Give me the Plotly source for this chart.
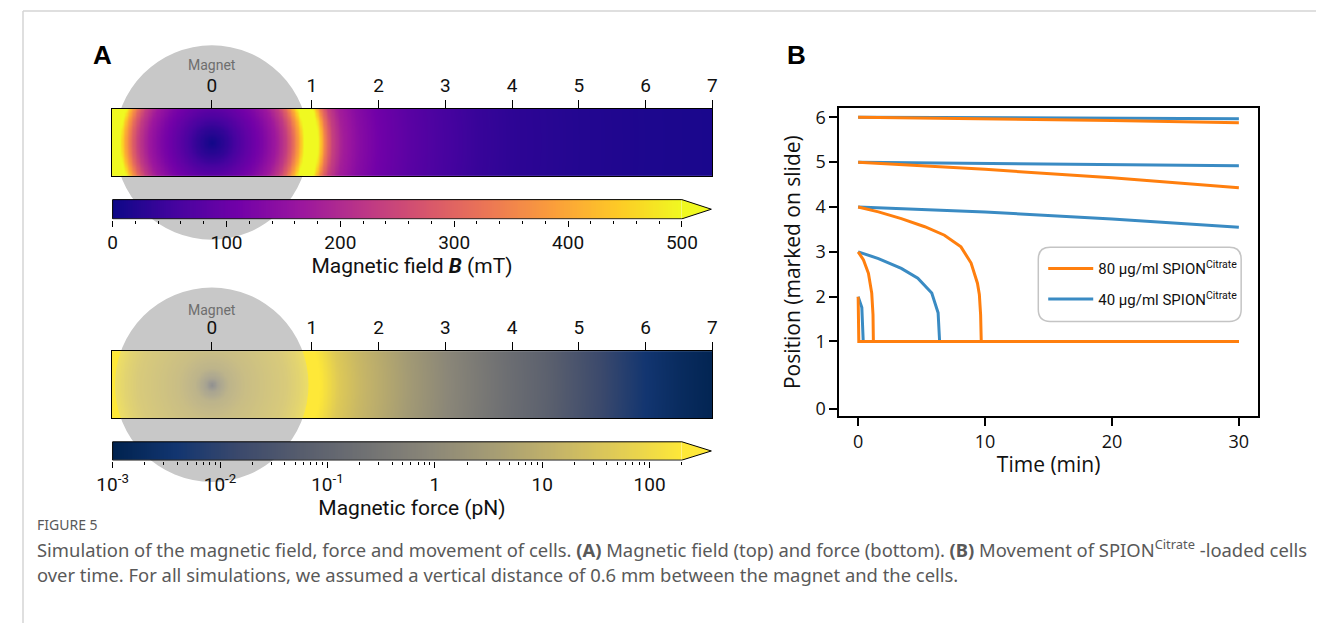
import numpy as np
import plotly.graph_objects as go

# ------------------------------------------------------------------ data
# Panel A: marks on the slide; the magnet centre ("0") lies 1.5 mark spacings before mark 1
slide_tick_labels = ["0", "1", "2", "3", "4", "5", "6", "7"]
slide_tick_positions = [-0.5, 1, 2, 3, 4, 5, 6, 7]
magnet_centre = -0.5
magnet_radius = 1.45
strip_start, strip_end = -2.0, 7.0

# radial profile of the magnetic field (distance from magnet centre, mark units -> mT)
field_radius = [0, 0.25, 0.5, 0.75, 0.95, 1.1, 1.2, 1.3, 1.38, 1.45, 1.55, 1.62, 1.7,
                1.8, 1.95, 2.2, 2.5, 3.0, 3.5, 4.0, 4.5, 5.5, 6.5, 7.7]
field_mT = [5, 40, 85, 125, 170, 230, 300, 400, 500, 560, 540, 450, 330,
            240, 180, 140, 110, 80, 58, 42, 32, 22, 16, 12]

# radial profile of the magnetic force (distance from magnet centre -> pN)
force_radius = [0, 0.1, 0.25, 0.5, 0.8, 1.1, 1.3, 1.45, 1.6, 1.75, 1.9, 2.2, 2.5,
                3.0, 3.5, 4.0, 4.5, 5.0, 5.5, 6.0, 6.5, 7.0, 7.7]
force_pN = [0.3, 2, 8, 18, 30, 50, 100, 220, 220, 100, 45, 18, 9,
            2.8, 1.0, 0.4, 0.17, 0.08, 0.03, 0.011, 0.004, 0.002, 0.001]

field_cbar_ticks = [0, 100, 200, 300, 400, 500]
field_cbar_minor = [v for v in range(20, 500, 20) if v % 100]
field_cbar_max = 500
force_cbar_ticks = [0.001, 0.01, 0.1, 1, 10, 100]
force_cbar_labels = ["10<sup>-3</sup>", "10<sup>-2</sup>", "10<sup>-1</sup>", "1", "10", "100"]
force_cbar_minor = [k * d for d in [0.001, 0.01, 0.1, 1, 10] for k in range(2, 10)] + [200]
force_cbar_min, force_cbar_max = 0.001, 200

# Panel B: cell positions (marks on slide) over time (min)
pos_tick_labels = ["0", "1", "2", "3", "4", "5", "6"]
pos_tick_positions = [-0.5, 1, 2, 3, 4, 5, 6]
time_ticks = [0, 10, 20, 30]

# 80 ug/ml SPION-Citrate (orange)
t80_6 = [0, 10, 20, 30];                    p80_6 = [6.0, 5.97, 5.93, 5.88]
t80_5 = [0, 10, 20, 30];                    p80_5 = [5.0, 4.84, 4.65, 4.43]
t80_4 = [0, 1.6, 3.4, 5.25, 6.8, 8.1, 8.9, 9.4, 9.55, 9.65, 9.7, 30]
p80_4 = [4.0, 3.89, 3.74, 3.56, 3.37, 3.11, 2.75, 2.3, 2.05, 1.6, 1.0, 1.0]
t80_3 = [0, 0.42, 0.81, 1.07, 1.17, 1.2, 30]
p80_3 = [3.0, 2.82, 2.52, 2.08, 1.6, 1.0, 1.0]
t80_2 = [0, 0.05, 30];                      p80_2 = [2.0, 1.0, 1.0]

# 40 ug/ml SPION-Citrate (blue)
t40_6 = [0, 30];                            p40_6 = [6.0, 5.97]
t40_5 = [0, 30];                            p40_5 = [5.0, 4.92]
t40_4 = [0, 10, 20, 30];                    p40_4 = [4.0, 3.89, 3.73, 3.55]
t40_3 = [0, 1.6, 3.4, 4.7, 5.8, 6.3, 6.42, 30]
p40_3 = [3.0, 2.85, 2.63, 2.41, 2.08, 1.64, 1.0, 1.0]
t40_2 = [0, 0.29, 0.4, 30];                 p40_2 = [2.0, 1.76, 1.0, 1.0]

ORANGE = "#ff7f0e"
BLUE = "#3a8bc3"

# ------------------------------------------------------------------ layout helpers (px of the page)
PAGE_W, PAGE_H = 1329, 635
OX, OY = 8, 8                      # default body margin of the html page
W, H = PAGE_W - 2 * OX, PAGE_H - 2 * OY
STRIP_X = (98, 708)
TOP_STRIP_Y = (107, 175)
TOP_CBAR_Y = (198, 219)
BOT_STRIP_Y = (352, 420)
BOT_CBAR_Y = (443, 463)
CBAR_BODY_END = 678
B_X = (837, 1262)
B_Y = (106, 418)


def px(x):
    return (x - OX) / W


def py(y):
    return 1 - (y - OY) / H


def dx(a, b):
    return [px(a), px(b)]


def dy(top, bottom):
    return [py(bottom), py(top)]


unit = (STRIP_X[1] - STRIP_X[0]) / (strip_end - strip_start)  # px per mark
NARROW = "Roboto, Liberation Sans Narrow, DejaVu Sans Condensed, sans-serif"
SANS = "Open Sans, Noto Sans, DejaVu Sans, sans-serif"

fig = go.Figure()


# ------------------------------------------------------------------ panel A strips
def strip_grid(y_px, radius, values):
    half = (y_px[1] - y_px[0]) / 2 / unit
    gx = np.arange(strip_start, strip_end + 1e-9, 0.02)
    gy = np.linspace(-half, half, 61)
    rr = np.hypot(gx[None, :] - magnet_centre, gy[:, None])
    return gx, gy, np.interp(rr, radius, values), half


gx, gy, zf, half_top = strip_grid(TOP_STRIP_Y, field_radius, field_mT)
fig.add_trace(go.Heatmap(x=gx, y=gy, z=zf, colorscale="Plasma", zmin=0, zmax=field_cbar_max,
                         zsmooth="best", showscale=False, hoverinfo="skip",
                         xaxis="x3", yaxis="y3"))
gx, gy, zF, half_bot = strip_grid(BOT_STRIP_Y, force_radius, np.log10(force_pN))
fig.add_trace(go.Heatmap(x=gx, y=gy, z=zF, colorscale="Cividis",
                         zmin=np.log10(force_cbar_min), zmax=np.log10(force_cbar_max),
                         zsmooth="best", showscale=False, hoverinfo="skip",
                         xaxis="x5", yaxis="y5"))

# ------------------------------------------------------------------ colourbars (drawn as heatmaps)
px_per_field = (CBAR_BODY_END - STRIP_X[0]) / field_cbar_max
arrow_field = (STRIP_X[1] - CBAR_BODY_END) / px_per_field
edges = np.linspace(0, field_cbar_max, 301)
mids = (edges[:-1] + edges[1:]) / 2
fig.add_trace(go.Heatmap(x=edges, y=[0, 0.5, 1], z=[mids, mids], colorscale="Plasma",
                         zmin=0, zmax=field_cbar_max, showscale=False, hoverinfo="skip",
                         xaxis="x4", yaxis="y4"))
tip_f = field_cbar_max + arrow_field
fig.add_trace(go.Scatter(x=[field_cbar_max, tip_f, field_cbar_max, field_cbar_max],
                         y=[0, 0.5, 1, 0], fill="toself", fillcolor="#f0f921",
                         line=dict(width=0), mode="lines", hoverinfo="skip",
                         showlegend=False, xaxis="x4", yaxis="y4"))
fig.add_trace(go.Scatter(x=[0, field_cbar_max, tip_f, field_cbar_max, 0, 0],
                         y=[0, 0, 0.5, 1, 1, 0], mode="lines",
                         line=dict(color="black", width=1), hoverinfo="skip",
                         showlegend=False, xaxis="x4", yaxis="y4"))

lmin, lmax = np.log10(force_cbar_min), np.log10(force_cbar_max)
px_per_dec = (CBAR_BODY_END - STRIP_X[0]) / (lmax - lmin)
arrow_force = (STRIP_X[1] - CBAR_BODY_END) / px_per_dec
edges = np.linspace(lmin, lmax, 301)
mids = (edges[:-1] + edges[1:]) / 2
fig.add_trace(go.Heatmap(x=edges, y=[0, 0.5, 1], z=[mids, mids], colorscale="Cividis",
                         zmin=lmin, zmax=lmax, showscale=False, hoverinfo="skip",
                         xaxis="x6", yaxis="y6"))
tip_F = lmax + arrow_force
fig.add_trace(go.Scatter(x=[lmax, tip_F, lmax, lmax], y=[0, 0.5, 1, 0], fill="toself",
                         fillcolor="#fee838", line=dict(width=0), mode="lines",
                         hoverinfo="skip", showlegend=False, xaxis="x6", yaxis="y6"))
fig.add_trace(go.Scatter(x=[lmin, lmax, tip_F, lmax, lmin, lmin], y=[0, 0, 0.5, 1, 1, 0],
                         mode="lines", line=dict(color="black", width=1), hoverinfo="skip",
                         showlegend=False, xaxis="x6", yaxis="y6"))

# ------------------------------------------------------------------ panel B lines
blue_sets = [(t40_6, p40_6), (t40_5, p40_5), (t40_4, p40_4), (t40_3, p40_3), (t40_2, p40_2)]
orange_sets = [(t80_6, p80_6), (t80_5, p80_5), (t80_4, p80_4), (t80_3, p80_3), (t80_2, p80_2)]
for i, (t, p) in enumerate(blue_sets):
    fig.add_trace(go.Scatter(x=t, y=p, mode="lines", line=dict(color=BLUE, width=3),
                             name="40 µg/ml SPION<sup>Citrate</sup>", legendgroup="b40",
                             legendrank=2, showlegend=(i == 0), xaxis="x7", yaxis="y7"))
for i, (t, p) in enumerate(orange_sets):
    fig.add_trace(go.Scatter(x=t, y=p, mode="lines", line=dict(color=ORANGE, width=3),
                             name="80 µg/ml SPION<sup>Citrate</sup>", legendgroup="o80",
                             legendrank=1, showlegend=(i == 0), xaxis="x7", yaxis="y7"))

# ------------------------------------------------------------------ axes
hidden = dict(visible=False, showgrid=False, zeroline=False)


def bg_range(strip_y, top, bottom):
    c = (strip_y[0] + strip_y[1]) / 2
    return [(c - bottom) / unit, (c - top) / unit]


strip_x_common = dict(domain=dx(*STRIP_X), range=[strip_start, strip_end],
                      showgrid=False, zeroline=False)
layout_axes = dict(
    xaxis=dict(**strip_x_common, visible=False, anchor="y"),
    yaxis=dict(domain=dy(30, 295), range=bg_range(TOP_STRIP_Y, 30, 295), anchor="x", **hidden),
    xaxis2=dict(**strip_x_common, visible=False, anchor="y2"),
    yaxis2=dict(domain=dy(280, 500), range=bg_range(BOT_STRIP_Y, 280, 500), anchor="x2", **hidden),
)
strip_ticks = dict(side="top", tickmode="array", tickvals=slide_tick_positions,
                   ticktext=slide_tick_labels, ticks="outside", ticklen=8, tickwidth=1.3,
                   tickcolor="black", showline=True, linecolor="black", linewidth=1.3,
                   mirror=True, tickfont=dict(family=NARROW, size=19, color="#111"))
layout_axes["xaxis3"] = dict(**strip_x_common, anchor="y3", **strip_ticks)
layout_axes["yaxis3"] = dict(domain=dy(*TOP_STRIP_Y), range=[-half_top, half_top], anchor="x3",
                             showline=True, linecolor="black", linewidth=1.3, mirror=True,
                             showticklabels=False, ticks="", showgrid=False, zeroline=False)
layout_axes["xaxis5"] = dict(**strip_x_common, anchor="y5", **strip_ticks)
layout_axes["yaxis5"] = dict(domain=dy(*BOT_STRIP_Y), range=[-half_bot, half_bot], anchor="x5",
                             showline=True, linecolor="black", linewidth=1.3, mirror=True,
                             showticklabels=False, ticks="", showgrid=False, zeroline=False)

pad_f = 1.0 / px_per_field
cbar_axis_common = dict(ticks="outside", ticklen=6, tickwidth=1, tickcolor="black",
                        showgrid=False, zeroline=False, showline=False,
                        tickfont=dict(family=NARROW, size=19, color="#111"))
layout_axes["xaxis4"] = dict(domain=dx(*STRIP_X), range=[-pad_f, tip_f + pad_f], anchor="y4",
                             tickmode="array", tickvals=field_cbar_ticks,
                             minor=dict(tickmode="array", tickvals=field_cbar_minor,
                                        ticks="outside", ticklen=3.5, tickwidth=1,
                                        tickcolor="black", showgrid=False),
                             title=dict(text="Magnetic field <b><i>B</i></b> (mT)",
                                        font=dict(family=NARROW, size=21, color="#111"),
                                        standoff=4), **cbar_axis_common)
layout_axes["yaxis4"] = dict(domain=dy(*TOP_CBAR_Y), range=[-0.04, 1.04], anchor="x4", **hidden)
pad_F = 1.0 / px_per_dec
layout_axes["xaxis6"] = dict(domain=dx(*STRIP_X), range=[lmin - pad_F, tip_F + pad_F], anchor="y6",
                             tickmode="array", tickvals=list(np.log10(force_cbar_ticks)),
                             ticktext=force_cbar_labels,
                             minor=dict(tickmode="array", tickvals=list(np.log10(force_cbar_minor)),
                                        ticks="outside", ticklen=3.5, tickwidth=1,
                                        tickcolor="black", showgrid=False),
                             title=dict(text="Magnetic force (pN)",
                                        font=dict(family=NARROW, size=21, color="#111"),
                                        standoff=2), **cbar_axis_common)
layout_axes["yaxis6"] = dict(domain=dy(*BOT_CBAR_Y), range=[-0.04, 1.04], anchor="x6", **hidden)

b_axis_common = dict(showline=True, linecolor="black", linewidth=1.8, mirror=True,
                     ticks="outside", ticklen=8, tickwidth=1.5, tickcolor="black",
                     showgrid=False, zeroline=False,
                     tickfont=dict(family=SANS, size=18, color="#111"))
layout_axes["xaxis7"] = dict(domain=dx(*B_X), range=[-1.48, 31.5], anchor="y7",
                             tickmode="array", tickvals=time_ticks,
                             title=dict(text="Time (min)", font=dict(family=SANS, size=21, color="#111"),
                                        standoff=5), **b_axis_common)
layout_axes["yaxis7"] = dict(domain=dy(*B_Y), range=[-0.67, 6.21], anchor="x7",
                             tickmode="array", tickvals=pos_tick_positions, ticktext=pos_tick_labels,
                             title=dict(text="Position (marked on slide)",
                                        font=dict(family=SANS, size=21, color="#111"),
                                        standoff=9), **b_axis_common)

# ------------------------------------------------------------------ shapes
shapes = []
for xr, yr in [("x", "y"), ("x2", "y2")]:
    shapes.append(dict(type="circle", xref=xr, yref=yr, layer="below",
                       x0=magnet_centre - magnet_radius, x1=magnet_centre + magnet_radius,
                       y0=-magnet_radius, y1=magnet_radius,
                       fillcolor="#c8c8c8", line=dict(width=0)))
shapes.append(dict(type="circle", xref="x5", yref="y5", layer="above",
                   x0=magnet_centre - magnet_radius, x1=magnet_centre + magnet_radius,
                   y0=-magnet_radius, y1=magnet_radius,
                   fillcolor="rgba(200,200,200,0.33)", line=dict(width=0)))
# page frame lines
shapes.append(dict(type="line", xref="paper", yref="paper", x0=0, x1=1, y0=1, y1=1,
                   line=dict(color="#d4d4d4", width=1.5)))
shapes.append(dict(type="line", xref="paper", yref="paper", x0=0, x1=0, y0=0, y1=1,
                   line=dict(color="#d4d4d4", width=1.5)))
# rounded legend frame
lx0, ly0, lx1, ly1, rad = 1039, 247, 1245, 322, 12


def P(x, y):
    return f"{px(x):.5f},{py(y):.5f}"


legend_path = (f"M {P(lx0 + rad, ly0)} L {P(lx1 - rad, ly0)} Q {P(lx1, ly0)} {P(lx1, ly0 + rad)} "
               f"L {P(lx1, ly1 - rad)} Q {P(lx1, ly1)} {P(lx1 - rad, ly1)} "
               f"L {P(lx0 + rad, ly1)} Q {P(lx0, ly1)} {P(lx0, ly1 - rad)} "
               f"L {P(lx0, ly0 + rad)} Q {P(lx0, ly0)} {P(lx0 + rad, ly0)} Z")
shapes.append(dict(type="path", xref="paper", yref="paper", path=legend_path,
                   line=dict(color="#c4c4c4", width=1.5), fillcolor="rgba(255,255,255,0.9)",
                   layer="below"))

# ------------------------------------------------------------------ annotations
ann = []
label_font = dict(family="Liberation Sans, Arial, sans-serif", size=26, color="black")
ann.append(dict(text="<b>A</b>", x=px(89), y=py(52), xref="paper", yref="paper",
                xanchor="center", yanchor="middle", showarrow=False, font=label_font))
ann.append(dict(text="<b>B</b>", x=px(793), y=py(52), xref="paper", yref="paper",
                xanchor="center", yanchor="middle", showarrow=False, font=label_font))
for ypx in (63, 310):
    ann.append(dict(text="Magnet", x=magnet_centre, xref="x3", y=py(ypx), yref="paper",
                    xanchor="center", yanchor="middle", showarrow=False,
                    font=dict(family=NARROW, size=14, color="#6e6e6e")))
cap_font = dict(family="Noto Sans, Open Sans, sans-serif", color="#595959")
ann.append(dict(text="FIGURE 5", x=px(20), y=py(527), xref="paper", yref="paper",
                xanchor="left", yanchor="middle", showarrow=False, font=dict(**cap_font, size=14)))
ann.append(dict(text=("Simulation of the magnetic field, force and movement of cells. <b>(A)</b> "
                      "Magnetic field (top) and force (bottom). <b>(B)</b> Movement of "
                      "SPION<sup>Citrate</sup> -loaded cells"),
                x=px(20), y=py(552), xref="paper", yref="paper", xanchor="left",
                yanchor="middle", showarrow=False, font=dict(**cap_font, size=18.4)))
ann.append(dict(text=("over time. For all simulations, we assumed a vertical distance of 0.6 mm "
                      "between the magnet and the cells."),
                x=px(20), y=py(578), xref="paper", yref="paper", xanchor="left",
                yanchor="middle", showarrow=False, font=dict(**cap_font, size=18.4)))

fig.update_layout(
    width=W, height=H, margin=dict(l=0, r=0, t=0, b=0),
    paper_bgcolor="white", plot_bgcolor="rgba(0,0,0,0)",
    shapes=shapes, annotations=ann,
    legend=dict(x=px(1044), y=py(252), xanchor="left", yanchor="top",
                bgcolor="rgba(0,0,0,0)", borderwidth=0, traceorder="grouped",
                tracegroupgap=8, itemwidth=45,
                font=dict(family=NARROW, size=15, color="#111")),
    **layout_axes,
)

fig.write_html("out.html")
